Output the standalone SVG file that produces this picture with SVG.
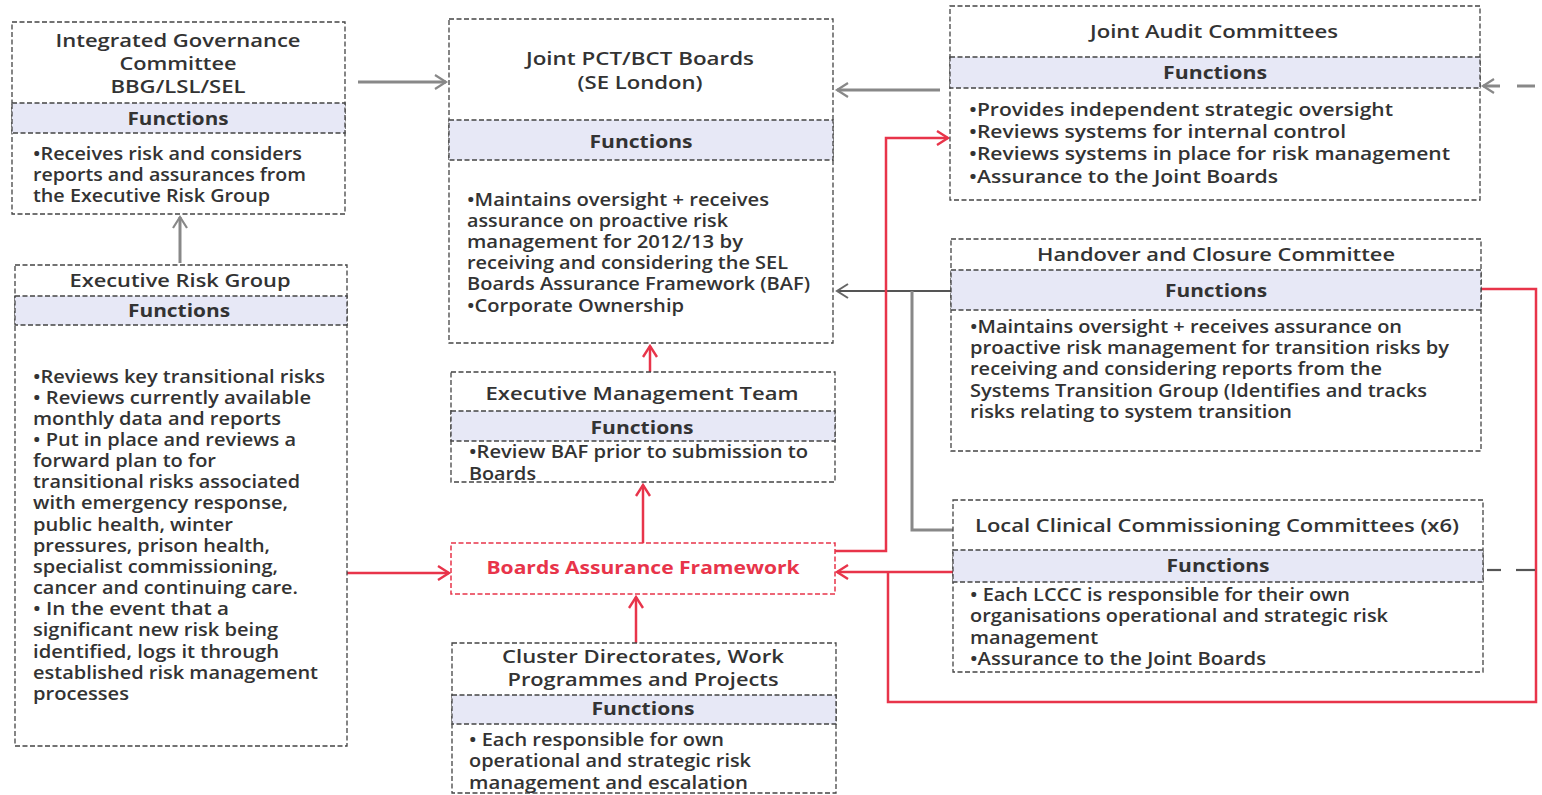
<svg xmlns="http://www.w3.org/2000/svg" width="1542" height="795" viewBox="0 0 1542 795">
<style>
.box{fill:#fff;stroke:#444;stroke-width:1.3;stroke-dasharray:5 2.5}
.band{fill:#e7e8f6;stroke:#444;stroke-width:1.3;stroke-dasharray:5 2.5}
.red{fill:#fff;stroke:#e8344a;stroke-width:1.5;stroke-dasharray:5 2.5}
text{font-family:"Open Sans","Liberation Sans",sans-serif;fill:#333;font-weight:600}
.t{font-size:18.5px;text-anchor:middle}
.f{font-size:18.5px;text-anchor:middle;font-weight:700}
.b{font-size:18px}
.rt{fill:#e8344a;font-size:18.5px;text-anchor:middle;font-weight:700}
.cg{fill:none;stroke:#888;stroke-width:3}
.cd{fill:none;stroke:#555;stroke-width:2.2}
.cr{fill:none;stroke:#e8344a;stroke-width:2.5}
</style>
<defs>
<marker id="ag" markerWidth="16" markerHeight="16" refX="13" refY="8" orient="auto" markerUnits="userSpaceOnUse"><path d="M2,1 L13,8 L2,15" fill="none" stroke="#888" stroke-width="2.2"/></marker>
<marker id="ad" markerWidth="16" markerHeight="16" refX="13" refY="8" orient="auto" markerUnits="userSpaceOnUse"><path d="M2,1 L13,8 L2,15" fill="none" stroke="#666" stroke-width="2"/></marker>
<marker id="ar" markerWidth="16" markerHeight="16" refX="13" refY="8" orient="auto" markerUnits="userSpaceOnUse"><path d="M2,1 L13,8 L2,15" fill="none" stroke="#e8344a" stroke-width="2.4"/></marker>
</defs>
<rect width="1542" height="795" fill="#fff"/>

<g id="connectors">
<line class="cg" x1="358" y1="82" x2="446" y2="82" marker-end="url(#ag)"/>
<line class="cg" x1="180" y1="263" x2="180" y2="217" marker-end="url(#ag)"/>
<line class="cg" x1="940" y1="90" x2="837" y2="90" marker-end="url(#ag)"/>
<line class="cg" x1="1500" y1="86" x2="1483" y2="86" marker-end="url(#ag)"/>
<line class="cg" x1="1517" y1="86" x2="1535" y2="86"/>
<line class="cd" x1="951" y1="291" x2="837" y2="291" marker-end="url(#ad)"/>
<polyline class="cg" points="912,291 912,530 953,530"/>
<polyline class="cr" points="835,551 886,551 886,138 948,138" marker-end="url(#ar)"/>
<line class="cr" x1="953" y1="572" x2="837" y2="572" marker-end="url(#ar)"/>
<polyline class="cr" points="888,572 888,702 1536,702 1536,289 1481,289"/>
<line class="cd" x1="1487" y1="570" x2="1501" y2="570"/>
<line class="cd" x1="1516" y1="570" x2="1535" y2="570"/>
<line class="cr" x1="347" y1="573" x2="449" y2="573" marker-end="url(#ar)"/>
<line class="cr" x1="643" y1="543" x2="643" y2="485" marker-end="url(#ar)"/>
<line class="cr" x1="650" y1="372" x2="650" y2="346" marker-end="url(#ar)"/>
<line class="cr" x1="636" y1="643" x2="636" y2="597" marker-end="url(#ar)"/>
</g>

<g id="igc">
<rect class="box" x="12" y="22" width="333" height="192"/>
<rect class="band" x="12" y="103" width="333" height="30"/>
<text class="t" x="178" y="47" textLength="245" lengthAdjust="spacingAndGlyphs">Integrated Governance</text>
<text class="t" x="178" y="70" textLength="117" lengthAdjust="spacingAndGlyphs">Committee</text>
<text class="t" x="178" y="93" textLength="135" lengthAdjust="spacingAndGlyphs">BBG/LSL/SEL</text>
<text class="f" x="178" y="125" textLength="101" lengthAdjust="spacingAndGlyphs">Functions</text>
<text class="b" x="33" y="160" textLength="269" lengthAdjust="spacingAndGlyphs">•Receives risk and considers</text>
<text class="b" x="33" y="181" textLength="273" lengthAdjust="spacingAndGlyphs">reports and assurances from</text>
<text class="b" x="33" y="202" textLength="237" lengthAdjust="spacingAndGlyphs">the Executive Risk Group</text>
</g>

<g id="joint-boards">
<rect class="box" x="449" y="19" width="384" height="324"/>
<rect class="band" x="449" y="120" width="384" height="40"/>
<text class="t" x="640" y="65" textLength="228" lengthAdjust="spacingAndGlyphs">Joint PCT/BCT Boards</text>
<text class="t" x="640" y="89" textLength="125" lengthAdjust="spacingAndGlyphs">(SE London)</text>
<text class="f" x="641" y="148" textLength="103" lengthAdjust="spacingAndGlyphs">Functions</text>
<text class="b" x="467" y="206" textLength="302" lengthAdjust="spacingAndGlyphs">•Maintains oversight + receives</text>
<text class="b" x="467" y="227" textLength="261" lengthAdjust="spacingAndGlyphs">assurance on proactive risk</text>
<text class="b" x="467" y="248" textLength="276" lengthAdjust="spacingAndGlyphs">management for 2012/13 by</text>
<text class="b" x="467" y="269" textLength="321" lengthAdjust="spacingAndGlyphs">receiving and considering the SEL</text>
<text class="b" x="467" y="290" textLength="343" lengthAdjust="spacingAndGlyphs">Boards Assurance Framework (BAF)</text>
<text class="b" x="467" y="312" textLength="217" lengthAdjust="spacingAndGlyphs">•Corporate Ownership</text>
</g>

<g id="joint-audit">
<rect class="box" x="950" y="6" width="530" height="194"/>
<rect class="band" x="950" y="57" width="530" height="31"/>
<text class="t" x="1214" y="38" textLength="248" lengthAdjust="spacingAndGlyphs">Joint Audit Committees</text>
<text class="f" x="1215" y="79" textLength="104" lengthAdjust="spacingAndGlyphs">Functions</text>
<text class="b" x="969" y="116" textLength="424" lengthAdjust="spacingAndGlyphs">•Provides independent strategic oversight</text>
<text class="b" x="969" y="138" textLength="377" lengthAdjust="spacingAndGlyphs">•Reviews systems for internal control</text>
<text class="b" x="969" y="160" textLength="481" lengthAdjust="spacingAndGlyphs">•Reviews systems in place for risk management</text>
<text class="b" x="969" y="183" textLength="309" lengthAdjust="spacingAndGlyphs">•Assurance to the Joint Boards</text>
</g>

<g id="handover">
<rect class="box" x="951" y="239" width="530" height="212"/>
<rect class="band" x="951" y="270" width="530" height="40"/>
<text class="t" x="1216" y="261" textLength="358" lengthAdjust="spacingAndGlyphs">Handover and Closure Committee</text>
<text class="f" x="1216" y="297" textLength="102" lengthAdjust="spacingAndGlyphs">Functions</text>
<text class="b" x="970" y="333" textLength="432" lengthAdjust="spacingAndGlyphs">•Maintains oversight + receives assurance on</text>
<text class="b" x="970" y="354" textLength="479" lengthAdjust="spacingAndGlyphs">proactive risk management for  transition risks by</text>
<text class="b" x="970" y="375" textLength="412" lengthAdjust="spacingAndGlyphs">receiving and considering reports from the</text>
<text class="b" x="970" y="397" textLength="457" lengthAdjust="spacingAndGlyphs">Systems Transition Group (Identifies and tracks</text>
<text class="b" x="970" y="418" textLength="322" lengthAdjust="spacingAndGlyphs">risks relating to system transition</text>
</g>

<g id="lccc">
<rect class="box" x="953" y="500" width="530" height="172"/>
<rect class="band" x="953" y="550" width="530" height="32"/>
<text class="t" x="1217" y="532" textLength="484" lengthAdjust="spacingAndGlyphs">Local Clinical Commissioning Committees (x6)</text>
<text class="f" x="1218" y="572" textLength="103" lengthAdjust="spacingAndGlyphs">Functions</text>
<text class="b" x="970" y="601" textLength="380" lengthAdjust="spacingAndGlyphs">• Each LCCC is responsible for their own</text>
<text class="b" x="970" y="622" textLength="418" lengthAdjust="spacingAndGlyphs">organisations operational and strategic risk</text>
<text class="b" x="970" y="644" textLength="128" lengthAdjust="spacingAndGlyphs">management</text>
<text class="b" x="970" y="665" textLength="296" lengthAdjust="spacingAndGlyphs">•Assurance to the Joint Boards</text>
</g>

<g id="erg">
<rect class="box" x="15" y="265" width="332" height="481"/>
<rect class="band" x="15" y="296" width="332" height="29"/>
<text class="t" x="180" y="287" textLength="221" lengthAdjust="spacingAndGlyphs">Executive Risk Group</text>
<text class="f" x="179" y="317" textLength="102" lengthAdjust="spacingAndGlyphs">Functions</text>
<text class="b" x="33" y="383" textLength="292" lengthAdjust="spacingAndGlyphs">•Reviews key transitional risks</text>
<text class="b" x="33" y="404" textLength="278" lengthAdjust="spacingAndGlyphs">• Reviews currently available</text>
<text class="b" x="33" y="425" textLength="248" lengthAdjust="spacingAndGlyphs">monthly data and reports</text>
<text class="b" x="33" y="446" textLength="263" lengthAdjust="spacingAndGlyphs">• Put in place and reviews a</text>
<text class="b" x="33" y="467" textLength="183" lengthAdjust="spacingAndGlyphs">forward plan to for</text>
<text class="b" x="33" y="488" textLength="267" lengthAdjust="spacingAndGlyphs">transitional risks associated</text>
<text class="b" x="33" y="509" textLength="255" lengthAdjust="spacingAndGlyphs">with emergency response,</text>
<text class="b" x="33" y="531" textLength="200" lengthAdjust="spacingAndGlyphs">public health, winter</text>
<text class="b" x="33" y="552" textLength="237" lengthAdjust="spacingAndGlyphs">pressures, prison health,</text>
<text class="b" x="33" y="573" textLength="245" lengthAdjust="spacingAndGlyphs">specialist commissioning,</text>
<text class="b" x="33" y="594" textLength="265" lengthAdjust="spacingAndGlyphs">cancer and continuing care.</text>
<text class="b" x="33" y="615" textLength="196" lengthAdjust="spacingAndGlyphs">•  In the event that a</text>
<text class="b" x="33" y="636" textLength="245" lengthAdjust="spacingAndGlyphs">significant new risk being</text>
<text class="b" x="33" y="658" textLength="246" lengthAdjust="spacingAndGlyphs">identified, logs it through</text>
<text class="b" x="33" y="679" textLength="285" lengthAdjust="spacingAndGlyphs">established risk management</text>
<text class="b" x="33" y="700" textLength="96" lengthAdjust="spacingAndGlyphs">processes</text>
</g>

<g id="emt">
<rect class="box" x="451" y="372" width="384" height="110"/>
<rect class="band" x="451" y="411" width="384" height="30"/>
<text class="t" x="642" y="400" textLength="313" lengthAdjust="spacingAndGlyphs">Executive Management Team</text>
<text class="f" x="642" y="434" textLength="103" lengthAdjust="spacingAndGlyphs">Functions</text>
<text class="b" x="469" y="458" textLength="339" lengthAdjust="spacingAndGlyphs">•Review BAF prior to submission to</text>
<text class="b" x="469" y="480" textLength="67" lengthAdjust="spacingAndGlyphs">Boards</text>
</g>

<g id="baf">
<rect class="red" x="451" y="543" width="384" height="51"/>
<text class="rt" x="643" y="574" textLength="313" lengthAdjust="spacingAndGlyphs">Boards Assurance Framework</text>
</g>

<g id="cluster">
<rect class="box" x="452" y="643" width="384" height="150"/>
<rect class="band" x="452" y="695" width="384" height="29"/>
<text class="t" x="643" y="663" textLength="282" lengthAdjust="spacingAndGlyphs">Cluster Directorates, Work</text>
<text class="t" x="643" y="686" textLength="271" lengthAdjust="spacingAndGlyphs">Programmes and Projects</text>
<text class="f" x="643" y="715" textLength="103" lengthAdjust="spacingAndGlyphs">Functions</text>
<text class="b" x="469" y="746" textLength="255" lengthAdjust="spacingAndGlyphs">• Each responsible for own</text>
<text class="b" x="469" y="767" textLength="282" lengthAdjust="spacingAndGlyphs">operational and strategic risk</text>
<text class="b" x="469" y="789" textLength="279" lengthAdjust="spacingAndGlyphs">management  and escalation</text>
</g>
</svg>
